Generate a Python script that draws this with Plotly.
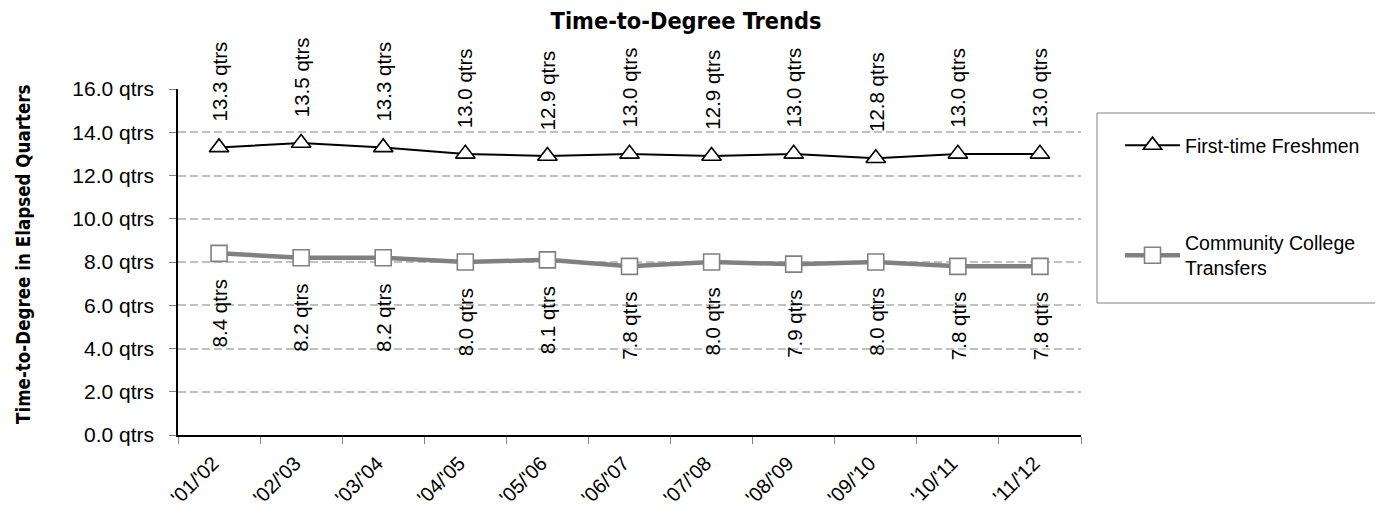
import plotly.graph_objects as go

categories = ["'01/'02", "'02/'03", "'03/'04", "'04/'05", "'05/'06", "'06/'07",
              "'07/'08", "'08/'09", "'09/'10", "'10/'11", "'11/'12"]
freshmen = [13.3, 13.5, 13.3, 13.0, 12.9, 13.0, 12.9, 13.0, 12.8, 13.0, 13.0]
transfers = [8.4, 8.2, 8.2, 8.0, 8.1, 7.8, 8.0, 7.9, 8.0, 7.8, 7.8]
y_ticks = [0, 2, 4, 6, 8, 10, 12, 14, 16]
y_ticktext = [f"{v:.1f} qtrs" for v in y_ticks]

REG = "Liberation Sans, Arial, sans-serif"
NARROW = "DejaVu Sans Condensed, Liberation Sans, sans-serif"

W, H = 1375, 501          # page body has an 8px margin
L, T, R, B = 170, 81, 1073, 427

fig = go.Figure()
fig.add_trace(go.Scatter(
    x=categories, y=freshmen, name="First-time Freshmen", legendgroup="a",
    mode="lines+markers",
    line=dict(color="black", width=2),
    marker=dict(symbol="triangle-up", size=17, color="white",
                line=dict(color="black", width=1.6)),
))
fig.add_trace(go.Scatter(
    x=categories, y=transfers, name="Community College<br>Transfers", legendgroup="b",
    mode="lines+markers",
    line=dict(color="#808080", width=4.5),
    marker=dict(symbol="square", size=16, color="white",
                line=dict(color="#808080", width=1.6)),
))

for c, v in zip(categories, freshmen):
    fig.add_annotation(x=c, y=v, text=f"{v:.1f} qtrs", textangle=-90, showarrow=False,
                       yanchor="bottom", yshift=24, font=dict(family=REG, size=20.5, color="black"))
for c, v in zip(categories, transfers):
    fig.add_annotation(x=c, y=v, text=f"{v:.1f} qtrs", textangle=-90, showarrow=False,
                       yanchor="top", yshift=-24, font=dict(family=REG, size=20.5, color="black"))

pw, ph = R - L, B - T
# y-axis title
fig.add_annotation(xref="paper", yref="paper", x=(23 - 8 - L) / pw, y=(B - (254 - 8)) / ph,
                   xanchor="center", yanchor="middle", textangle=-90, showarrow=False,
                   text="<b>Time-to-Degree in Elapsed Quarters</b>",
                   font=dict(family=NARROW, size=18.6, color="black"))
# legend frame
fig.add_shape(type="rect", xref="paper", yref="paper",
              x0=(1097 - 8 - L) / pw, x1=(1390 - L) / pw,
              y0=(B - (303 - 8)) / ph, y1=(B - (113 - 8)) / ph,
              line=dict(color="#808080", width=1), fillcolor="rgba(0,0,0,0)")

fig.update_layout(
    width=W, height=H,
    margin=dict(l=L, r=W - R, t=T, b=H - B, autoexpand=False),
    paper_bgcolor="white", plot_bgcolor="white",
    title=dict(text="<b>Time-to-Degree Trends</b>", x=678 / W, xanchor="center",
               y=1 - 13 / H, yanchor="middle",
               font=dict(family=NARROW, size=23.3, color="black")),
    showlegend=True,
    legend=dict(x=(1120 - 8 - L) / pw, xanchor="left", y=(B - (126 - 8)) / ph, yanchor="top",
                bgcolor="rgba(0,0,0,0)", borderwidth=0, tracegroupgap=69,
                itemwidth=55, font=dict(family=REG, size=19.5, color="black")),
    xaxis=dict(type="category", range=[-0.5, len(categories) - 0.5],
               tickson="boundaries", showline=True, linecolor="black",
               linewidth=1.5, ticks="outside", ticklen=7, tickcolor="#808080",
               tickangle=-45, showgrid=False, automargin=False,
               ticklabelshift=-6, ticklabelstandoff=7,
               tickfont=dict(family=REG, size=20, color="black")),
    yaxis=dict(range=[0, 16], tickvals=y_ticks, ticktext=y_ticktext,
               showline=True, linecolor="black", linewidth=1.5, ticks="outside",
               ticklen=7, tickcolor="#808080", showgrid=True, gridcolor="#C0C0C0",
               gridwidth=2, griddash="8px,4px", zeroline=False, automargin=False,
               ticklabelstandoff=11,
               tickfont=dict(family=REG, size=21, color="black")),
)

fig.write_html("out.html")
